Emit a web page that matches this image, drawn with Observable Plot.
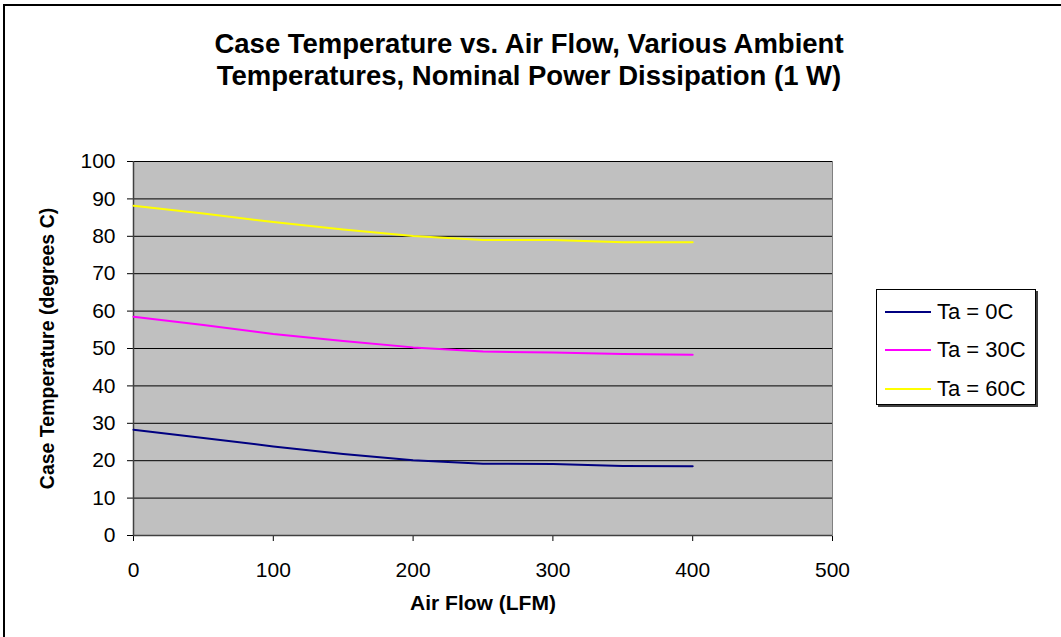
<!DOCTYPE html>
<html>
<head>
<meta charset="utf-8">
<script src="https://cdn.jsdelivr.net/npm/d3@7"></script>
<script src="https://cdn.jsdelivr.net/npm/@observablehq/plot@0.6"></script>
<style>
  html, body { margin: 0; padding: 0; background: #fff; overflow: hidden; }
  #wrap { position: relative; width: 1061px; height: 637px; overflow: hidden;
          font-family: "Liberation Sans", Arial, Helvetica, sans-serif; color: #000; }
  #frame { position: absolute; left: 3px; top: 4px; width: 1100px; height: 700px;
           border: 2px solid #000; box-sizing: border-box; }
  #title { position: absolute; left: 0; top: 28px; width: 1058px; text-align: center;
           font-weight: bold; font-size: 27.5px; line-height: 32px; }
  #chart { position: absolute; left: 0; top: 120px; }
  #legend { position: absolute; left: 876px; top: 289px; width: 160px; height: 116px;
            box-sizing: border-box; border: 1px solid #000; background: #fff;
            box-shadow: 2px 2px 0 #404040; }
  .row { position: absolute; left: 8px; height: 24px; display: flex; align-items: center;
         font-size: 22px; white-space: nowrap; }
  .row svg { margin-right: 6px; }
</style>
</head>
<body>
<div id="wrap">
  <div id="frame"></div>
  <div id="title">Case Temperature vs. Air Flow, Various Ambient<br>Temperatures, Nominal Power Dissipation (1 W)</div>
  <div id="chart"></div>
  <div id="legend"></div>
</div>
<script>
// ---- data ----
const airFlow = [0, 50, 100, 150, 200, 250, 300, 350, 400];
const ta0  = [28.3, 26.1, 23.8, 21.8, 20.1, 19.2, 19.1, 18.6, 18.5];
const ta30 = [58.5, 56.3, 53.9, 52.0, 50.3, 49.2, 48.9, 48.5, 48.3];
const ta60 = [88.2, 86.1, 83.8, 81.8, 80.1, 79.0, 79.0, 78.4, 78.4];
const seriesNames = ["Ta = 0C", "Ta = 30C", "Ta = 60C"];
const seriesColors = ["#000080", "#ff00ff", "#ffff00"];
const xTicks = [0, 100, 200, 300, 400, 500];
const yTicks = [0, 10, 20, 30, 40, 50, 60, 70, 80, 90, 100];
const xTitle = "Air Flow (LFM)";
const yTitle = "Case Temperature (degrees C)";

const allSeries = [ta0, ta30, ta60];
const rows = allSeries.flatMap((vals, i) =>
  vals.map((v, j) => ({flow: airFlow[j], temp: v, series: seriesNames[i]})));

const font = '"Liberation Sans", Arial, Helvetica, sans-serif';

const chart = Plot.plot({
  width: 860,
  height: 517,
  marginLeft: 133,
  marginRight: 28,
  marginTop: 41,
  marginBottom: 102,
  style: {fontFamily: font, fontSize: "21px", color: "#000", background: "transparent", overflow: "visible"},
  x: {domain: [0, 500], ticks: xTicks, tickSize: 6, tickPadding: 21, label: null, tickFormat: d => String(d)},
  y: {domain: [0, 100], ticks: yTicks, tickSize: 6, tickPadding: 12, label: null, tickFormat: d => String(d)},
  marks: [
    Plot.frame({fill: "#c0c0c0", stroke: "#808080"}),
    Plot.ruleY(yTicks.filter(v => v > 0), {stroke: "#000", strokeWidth: 1}),
    Plot.ruleX([0], {stroke: "#404040", strokeWidth: 1.5}),
    Plot.ruleY([0], {stroke: "#404040", strokeWidth: 1.5}),
    ...seriesNames.map((name, i) =>
      Plot.line(rows.filter(r => r.series === name), {
        x: "flow", y: "temp", stroke: seriesColors[i], strokeWidth: 2
      })),
    Plot.text([xTitle], {frameAnchor: "bottom", dy: 74, fontWeight: "bold", fontSize: 21, textAnchor: "middle"}),
    Plot.text([yTitle], {frameAnchor: "left", dx: -86, rotate: -90, fontWeight: "bold", fontSize: 19.5, textAnchor: "middle"})
  ]
});
document.getElementById("chart").appendChild(chart);

// legend
const legend = document.getElementById("legend");
const rowTops = [310.5, 349, 387.5];
seriesNames.forEach((name, i) => {
  const row = document.createElement("div");
  row.className = "row";
  row.style.top = (rowTops[i] - 289 - 12) + "px";
  row.innerHTML = `<svg width="46" height="4"><line x1="0" x2="46" y1="2" y2="2" stroke="${seriesColors[i]}" stroke-width="2"/></svg><span>${name}</span>`;
  legend.appendChild(row);
});
</script>
</body>
</html>
